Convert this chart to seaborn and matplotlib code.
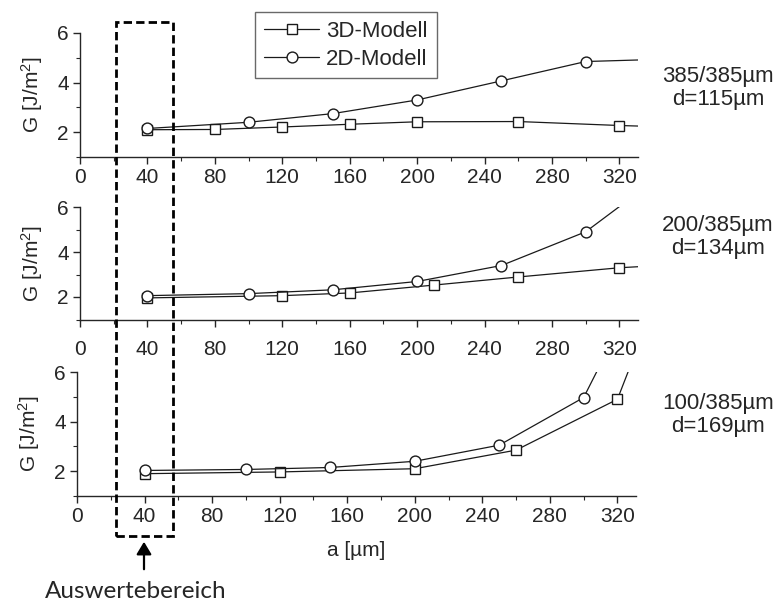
import numpy as np
import pandas as pd
import matplotlib
matplotlib.use("Agg")
import matplotlib.pyplot as plt
from matplotlib.patches import Rectangle, FancyArrowPatch
from matplotlib.ticker import MultipleLocator
import seaborn as sns

# ---------------- data ----------------
top_3d_x = [40, 80, 120, 160, 200, 260, 320, 380]
top_3d_y = [2.10, 2.11, 2.21, 2.32, 2.42, 2.43, 2.27, 2.15]
top_2d_x = [40, 100, 150, 200, 250, 300, 350]
top_2d_y = [2.15, 2.40, 2.75, 3.30, 4.07, 4.85, 4.95]

mid_3d_x = [40, 120, 160, 210, 260, 320, 380]
mid_3d_y = [1.96, 2.06, 2.18, 2.53, 2.89, 3.30, 3.55]
mid_2d_x = [40, 100, 150, 200, 250, 300, 350]
mid_2d_y = [2.06, 2.15, 2.32, 2.69, 3.40, 4.90, 7.70]

bot_3d_x = [40, 120, 200, 260, 320, 340]
bot_3d_y = [1.90, 1.97, 2.10, 2.85, 4.90, 8.40]
bot_2d_x = [40, 100, 150, 200, 250, 300, 330]
bot_2d_y = [2.03, 2.07, 2.15, 2.40, 3.05, 4.97, 9.00]

series_names = ["3D-Modell", "2D-Modell"]
panel_labels = ["385/385µm\nd=115µm", "200/385µm\nd=134µm", "100/385µm\nd=169µm"]
x_ticks = [0, 40, 80, 120, 160, 200, 240, 280, 320]
y_ticks = [2, 4, 6]
x_label = "a [µm]"
y_label = "G [J/m$^2$]"
annot_text = "Auswertebereich"

# ---------------- style ----------------
sns.set_style("ticks")
plt.rcParams["font.family"] = ["Liberation Sans", "DejaVu Sans"]
plt.rcParams["mathtext.default"] = "regular"
plt.rcParams["axes.linewidth"] = 1.0
plt.rcParams["xtick.major.size"] = 5
plt.rcParams["ytick.major.size"] = 5
plt.rcParams["xtick.minor.size"] = 3
plt.rcParams["ytick.minor.size"] = 3
plt.rcParams["xtick.direction"] = "out"
plt.rcParams["ytick.direction"] = "out"

W, H = 778, 606
fig = plt.figure(figsize=(W / 100, H / 100), dpi=100)

def px_axes(left, top, right, bottom):
    return fig.add_axes([left / W, 1 - bottom / H, (right - left) / W, (bottom - top) / H])

ax_top = px_axes(80, 33, 638, 157)
ax_mid = px_axes(80, 207, 638, 319.5)
ax_bot = px_axes(77, 372, 636, 496)

panels = [
    (ax_top, top_3d_x, top_3d_y, top_2d_x, top_2d_y),
    (ax_mid, mid_3d_x, mid_3d_y, mid_2d_x, mid_2d_y),
    (ax_bot, bot_3d_x, bot_3d_y, bot_2d_x, bot_2d_y),
]
x_pads = [3, 10, 3]

line_col = "#1a1a1a"
for i, (ax, x3, y3, x2, y2) in enumerate(panels):
    df3 = pd.DataFrame({"a": x3, "G": y3})
    df2 = pd.DataFrame({"a": x2, "G": y2})
    sns.lineplot(data=df3, x="a", y="G", ax=ax, color=line_col, linewidth=0.9,
                 marker="s", markersize=6.5, markerfacecolor="white",
                 markeredgecolor=line_col, markeredgewidth=1.0,
                 label=series_names[0] if i == 0 else None, legend=False)
    sns.lineplot(data=df2, x="a", y="G", ax=ax, color=line_col, linewidth=0.9,
                 marker="o", markersize=7.8, markerfacecolor="white",
                 markeredgecolor=line_col, markeredgewidth=1.0,
                 label=series_names[1] if i == 0 else None, legend=False)
    ax.set_xlim(0, 331)
    ax.set_ylim(1, 6)
    ax.set_xticks(x_ticks)
    ax.set_yticks(y_ticks)
    ax.xaxis.set_minor_locator(MultipleLocator(20))
    ax.yaxis.set_minor_locator(MultipleLocator(1))
    ax.tick_params(axis="both", which="major", labelsize=15, width=1.0, pad=3)
    ax.tick_params(axis="x", which="major", pad=x_pads[i])
    ax.tick_params(axis="both", which="minor", width=0.8)
    sns.despine(ax=ax)
    ax.set_xlabel("")
    ax.set_ylabel(y_label, fontsize=15, labelpad=9)
    ax.patch.set_alpha(0)

ax_bot.set_xlabel(x_label, fontsize=15, labelpad=11)

# right-hand panel labels
for y_c, txt in zip([88, 237, 415], panel_labels):
    fig.text(718 / W, 1 - y_c / H, txt, ha="center", va="center",
             fontsize=16, linespacing=1.1)

# legend
h, l = ax_top.get_legend_handles_labels()
leg = fig.legend(h, l, loc="upper left", bbox_to_anchor=(255 / W, 1 - 12 / H),
                 frameon=True, fancybox=False, edgecolor="#444444",
                 fontsize=16, handlelength=2.5, handletextpad=0.3,
                 borderpad=0.4, labelspacing=0.3, borderaxespad=0)
leg.get_frame().set_linewidth(1.0)

# dashed evaluation region
rect = Rectangle((116 / W, 1 - 536 / H), (173 - 116) / W, (536 - 22) / H,
                 transform=fig.transFigure, fill=False, edgecolor="black",
                 linewidth=2.0, linestyle=(0, (3, 1.5)))
fig.patches.append(rect)

arrow = FancyArrowPatch((144 / W, 1 - 572 / H), (144 / W, 1 - 539 / H),
                        transform=fig.transFigure, arrowstyle="-|>,head_length=5,head_width=3",
                        color="black", linewidth=1.6, mutation_scale=1.5)
fig.patches.append(arrow)

fig.text(136 / W, 1 - 591 / H, annot_text, ha="center", va="center",
         fontsize=17.5, family=["Lato", "DejaVu Sans"])

fig.savefig("out.png", dpi=100)
